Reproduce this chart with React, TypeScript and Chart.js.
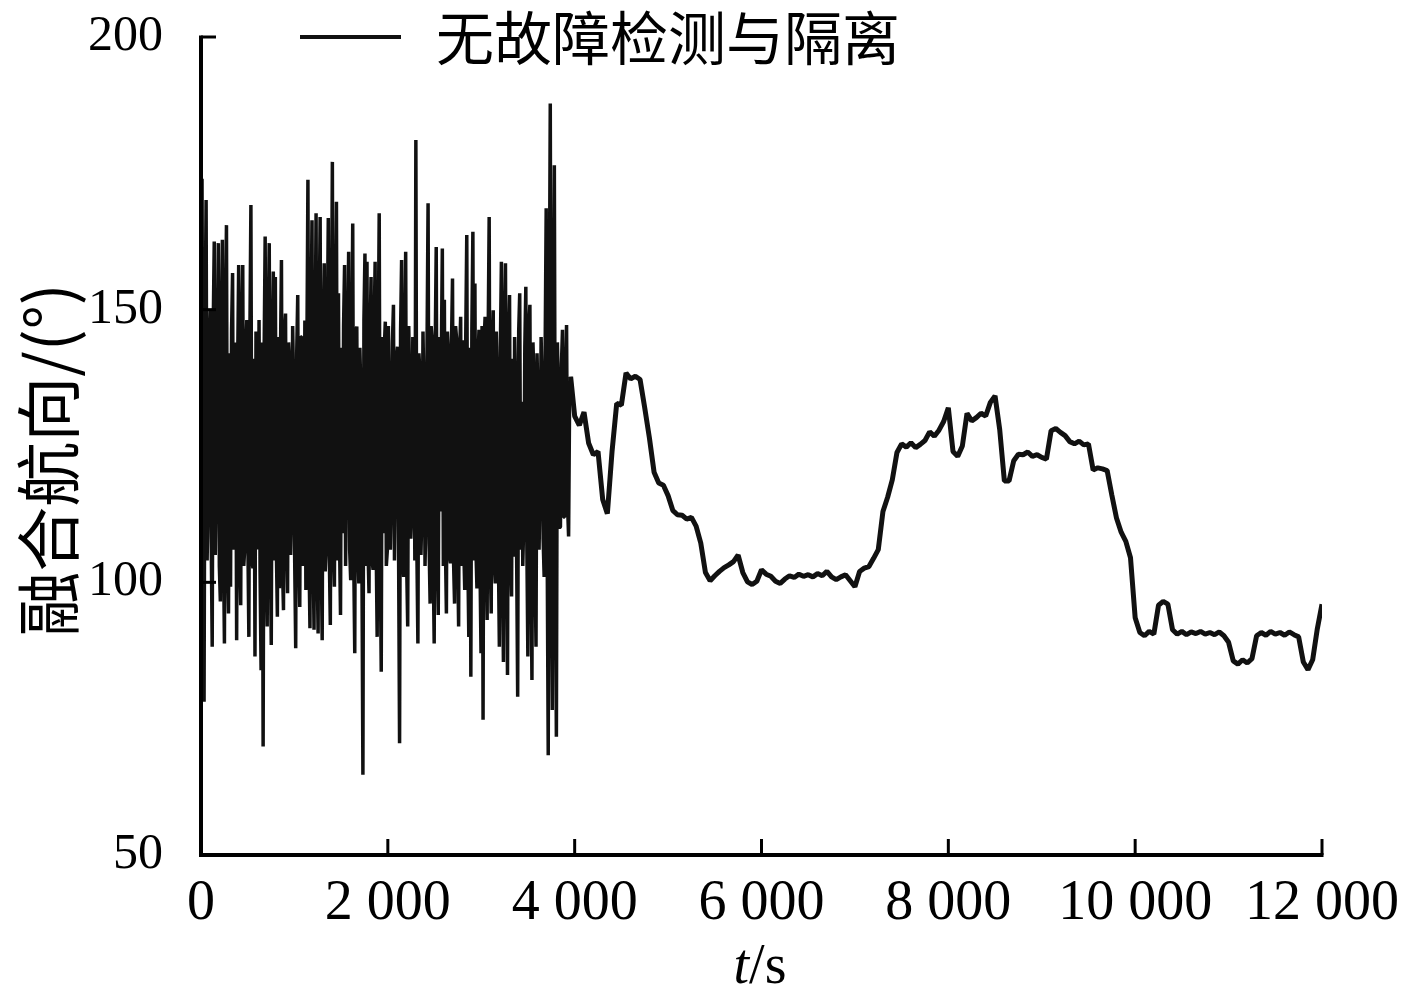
import React, { useEffect, useRef } from "react";
import { Chart, registerables } from "chart.js";

Chart.register(...registerables);

// ---- data ----
// noisy part (0 - ~3960 s): successive column extremes, one sample every noiseStep seconds
const noiseStart = 11;
const noiseStep = 10.9;
const noiseValues = [
  174, 106, 78.1, 146, 170.1, 104, 116.3, 143, 149.9, 108, 88.2, 147, 162.5, 105, 118.8, 141, 162.2, 103, 96.5, 145,
  162.8, 107, 88.8, 148, 165.5, 104, 94.3, 142, 99.2, 146, 156.7, 106, 113.3, 144, 89.4, 140, 158.2, 105, 95.8, 147,
  158.2, 103, 106.5, 143, 148.1, 108, 90.0, 145, 169.2, 104, 102.6, 141, 86.4, 146, 134.3, 106, 148.1, 102, 83.9, 144,
  69.9, 142, 163.4, 105, 91.9, 147, 162.2, 107, 88.5, 143, 157.0, 104, 156.0, 106, 93.7, 145, 98.9, 141, 159.1, 103,
  94.9, 146, 149.3, 108, 98.0, 144, 140.2, 105, 114.5, 147, 135.3, 104, 87.9, 142, 152.7, 106, 95.5, 145, 145.0, 103,
  109.0, 148, 98.6, 143, 173.8, 105, 91.6, 146, 166.4, 107, 91.3, 141, 167.7, 104, 90.6, 147, 167.0, 106, 89.4, 144,
  158.5, 102, 107.2, 145, 166.8, 105, 92.2, 142, 177.1, 107, 99.2, 146, 169.8, 104, 153.0, 108, 94.0, 143, 109.0, 147,
  158.2, 103, 122.4, 145, 160.6, 106, 100.4, 141, 165.8, 104, 87.0, 146, 146.9, 107, 99.8, 143, 134.7, 105, 64.7, 148,
  160.3, 103, 158.8, 106, 98.0, 144, 156.0, 104, 102.3, 146, 158.8, 107, 90.0, 142, 167.7, 105, 83.6, 145, 109.0, 143,
  147.8, 103, 105.9, 147, 131.6, 106, 116.9, 144, 150.9, 104, 122.4, 141, 143.2, 107, 70.5, 146, 159.1, 105, 101.0, 143,
  160.6, 103, 91.9, 147, 135.9, 108, 113.0, 145, 142.0, 104, 181.1, 106, 88.8, 142, 138.3, 105, 113.9, 146, 133.1, 103,
  113.3, 144, 169.5, 107, 96.1, 147, 144.4, 104, 88.8, 143, 161.5, 106, 94.0, 145, 113.0, 141, 161.2, 103, 151.8, 107,
  94.3, 146, 141.7, 105, 103.5, 144, 155.7, 104, 96.1, 147, 144.7, 106, 91.9, 142, 148.7, 103, 144.4, 107, 98.6, 145,
  163.7, 105, 90.0, 143, 82.7, 146, 164.3, 104, 154.8, 106, 98.9, 141, 146.3, 103, 87.0, 147, 74.8, 144, 148.7, 107,
  93.1, 145, 167.0, 105, 94.3, 142, 149.9, 104, 99.8, 146, 136.8, 106, 88.2, 143, 158.8, 103, 85.4, 147, 158.5, 107,
  83.0, 144, 152.7, 105, 97.4, 141, 104.7, 145, 135.3, 104, 79.0, 146, 153.0, 106, 133.1, 103, 111.4, 143, 154.2, 107,
  86.4, 147, 150.9, 105, 82.1, 144, 137.1, 104, 88.2, 142, 132.5, 106, 118.2, 145, 135.9, 108, 101.0, 143, 168.6, 105,
  68.3, 146, 187.8, 107, 76.6, 142, 176.5, 106, 71.7, 144, 135.3, 110, 110.2, 140, 146.3, 112, 112.0, 138, 147.2, 114,
  108.4, 134, 137.7,
];

// smoother part (4000 - 12000 s)
const trackStart = 4000;
const trackStep = 50;
const trackValues = [
  130.5, 128.8, 131.2, 125.5, 123.4, 124.0, 115.2, 112.6, 124.0, 132.8,
  132.5, 138.4, 137.3, 137.8, 137.2, 132.0, 126.5, 120.2, 118.2, 117.8,
  115.9, 113.2, 112.4, 112.3, 111.6, 111.9, 110.3, 107.2, 101.8, 100.3,
  101.2, 102.0, 102.7, 103.2, 103.8, 105.0, 101.8, 100.1, 99.6, 100.2,
  102.3, 101.5, 101.1, 100.2, 99.8, 100.6, 101.2, 100.9, 101.5, 101.1,
  101.4, 101.0, 101.6, 101.2, 102.0, 101.0, 100.5, 101.0, 101.4, 100.3,
  99.2, 102.0, 102.6, 102.9, 104.4, 106.0, 113.0, 115.6, 118.8, 123.8,
  125.4, 124.8, 125.6, 124.7, 125.3, 126.0, 127.6, 126.8, 127.9, 129.5,
  132.0, 124.0, 123.1, 125.0, 131.0, 129.6, 130.2, 131.0, 130.5, 133.0,
  134.2, 128.0, 118.6, 118.6, 122.3, 123.5, 123.4, 123.9, 123.1, 123.4,
  122.9, 122.6, 127.8, 128.2, 127.5, 126.9, 125.8, 125.4, 125.9, 125.2,
  125.4, 120.6, 121.0, 120.8, 120.5, 116.0, 111.8, 109.2, 107.5, 104.5,
  93.5, 90.8, 90.2, 91.0, 90.5, 95.8, 96.5, 96.0, 91.3, 90.5,
  91.0, 90.4, 90.9, 90.6, 91.0, 90.5, 90.8, 90.4, 90.9, 90.2,
  89.0, 85.6, 85.0, 85.8, 85.2, 86.0, 90.2, 90.8, 90.3, 91.0,
  90.5, 90.8, 90.3, 90.9, 90.4, 90.0, 85.4, 84.0, 85.8, 91.5,
  96.0,
];

const xTicks = [0, 2000, 4000, 6000, 8000, 10000, 12000];
const yTicks = [50, 100, 150, 200];
const legendLabel = "无故障检测与隔离";
const yTitle = "融合航向/(°)";
const xTitleItalic = "t";
const xTitleRest = "/s";

const LINE_COLOR = "#111111";
const SERIF = '"Liberation Serif", "Times New Roman", serif';
const CJK = '"Noto Sans CJK SC", "Noto Sans", sans-serif';

function fmtTick(v: number): string {
  if (v === 0) return "0";
  const th = Math.floor(v / 1000);
  const rest = String(v % 1000).padStart(3, "0");
  return `${th} ${rest}`;
}

const overlayPlugin = {
  id: "overlay",
  afterDraw(chart: any) {
    const { ctx, chartArea, scales } = chart;
    const x = scales.x;
    const y = scales.y;
    ctx.save();
    ctx.strokeStyle = "#000";
    ctx.fillStyle = "#000";
    // axes
    ctx.lineWidth = 4;
    ctx.lineCap = "butt";
    ctx.beginPath();
    ctx.moveTo(chartArea.left, chartArea.top - 1.5);
    ctx.lineTo(chartArea.left, chartArea.bottom);
    ctx.lineTo(chartArea.right + 1.5, chartArea.bottom);
    ctx.stroke();
    // inward ticks
    ctx.lineWidth = 3;
    yTicks.forEach((v) => {
      const py = y.getPixelForValue(v);
      ctx.beginPath();
      ctx.moveTo(chartArea.left, py);
      ctx.lineTo(chartArea.left + 15, py);
      ctx.stroke();
    });
    xTicks.forEach((v) => {
      const px = x.getPixelForValue(v);
      ctx.beginPath();
      ctx.moveTo(px, chartArea.bottom);
      ctx.lineTo(px, chartArea.bottom - 16);
      ctx.stroke();
    });
    // legend
    ctx.lineWidth = 4;
    ctx.strokeStyle = LINE_COLOR;
    ctx.beginPath();
    ctx.moveTo(300, chartArea.top);
    ctx.lineTo(401, chartArea.top);
    ctx.stroke();
    ctx.font = `58px ${CJK}`;
    ctx.textAlign = "left";
    ctx.textBaseline = "middle";
    ctx.fillText(legendLabel, 436, chartArea.top + 1);
    // y title
    ctx.save();
    ctx.translate(48, 460);
    ctx.rotate(-Math.PI / 2);
    ctx.textAlign = "center";
    ctx.textBaseline = "middle";
    ctx.font = `65px ${CJK}`;
    ctx.fillText(yTitle, 0, 0);
    ctx.restore();
    // x title
    ctx.textBaseline = "alphabetic";
    ctx.textAlign = "left";
    ctx.font = `italic 56px ${SERIF}`;
    const wi = ctx.measureText(xTitleItalic).width;
    ctx.font = `56px ${SERIF}`;
    const wr = ctx.measureText(xTitleRest).width;
    const cx = 760;
    const startX = cx - (wi + wr) / 2;
    const base = 983;
    ctx.font = `italic 56px ${SERIF}`;
    ctx.fillText(xTitleItalic, startX, base);
    ctx.font = `56px ${SERIF}`;
    ctx.fillText(xTitleRest, startX + wi, base);
    ctx.restore();
  },
};

export default function App() {
  const canvasRef = useRef<HTMLCanvasElement | null>(null);

  useEffect(() => {
    const canvas = canvasRef.current;
    if (!canvas) return;

    const noisePoints = noiseValues.map((v, i) => ({ x: noiseStart + i * noiseStep, y: v }));
    const trackPoints = trackValues.map((v, i) => ({ x: trackStart + i * trackStep, y: v }));
    const lastNoise = noisePoints[noisePoints.length - 1];

    const chart = new Chart(canvas, {
      type: "line",
      data: {
        datasets: [
          {
            label: legendLabel,
            data: noisePoints,
            borderColor: LINE_COLOR,
            borderWidth: 3.5,
            pointRadius: 0,
            tension: 0,
            borderJoinStyle: "bevel",
          },
          {
            label: legendLabel + "-2",
            data: [lastNoise, ...trackPoints],
            borderColor: LINE_COLOR,
            borderWidth: 5,
            pointRadius: 0,
            tension: 0,
            borderJoinStyle: "bevel",
          },
        ],
      },
      options: {
        responsive: false,
        animation: false,
        parsing: true,
        layout: { padding: { top: 37, right: 95, left: 0, bottom: 0 } },
        plugins: {
          legend: { display: false },
          tooltip: { enabled: false },
          title: { display: false },
        },
        scales: {
          x: {
            type: "linear",
            min: 0,
            max: 12000,
            grid: { display: false },
            border: { display: false },
            afterBuildTicks: (scale: any) => {
              scale.ticks = xTicks.map((v) => ({ value: v }));
            },
            afterFit: (scale: any) => {
              scale.height = 139;
              scale.paddingLeft = 0;
              scale.paddingRight = 0;
            },
            ticks: {
              autoSkip: false,
              maxRotation: 0,
              padding: 8,
              color: "#000",
              font: { family: SERIF, size: 56 },
              callback: (v: any) => fmtTick(Number(v)),
            },
          },
          y: {
            type: "linear",
            min: 50,
            max: 200,
            grid: { display: false },
            border: { display: false },
            afterBuildTicks: (scale: any) => {
              scale.ticks = yTicks.map((v) => ({ value: v }));
            },
            afterFit: (scale: any) => {
              scale.width = 201;
              scale.paddingTop = 0;
              scale.paddingBottom = 0;
            },
            ticks: {
              padding: 30,
              color: "#000",
              font: { family: SERIF, size: 50 },
              callback: (v: any) => String(v),
            },
          },
        },
      },
      plugins: [overlayPlugin],
    });

    return () => {
      chart.destroy();
    };
  }, []);

  return (
    <div style={{ position: "absolute", left: 0, top: 0, width: 1417, height: 994, background: "#fff" }}>
      <canvas ref={canvasRef} width={1417} height={994} style={{ display: "block" }} />
    </div>
  );
}
